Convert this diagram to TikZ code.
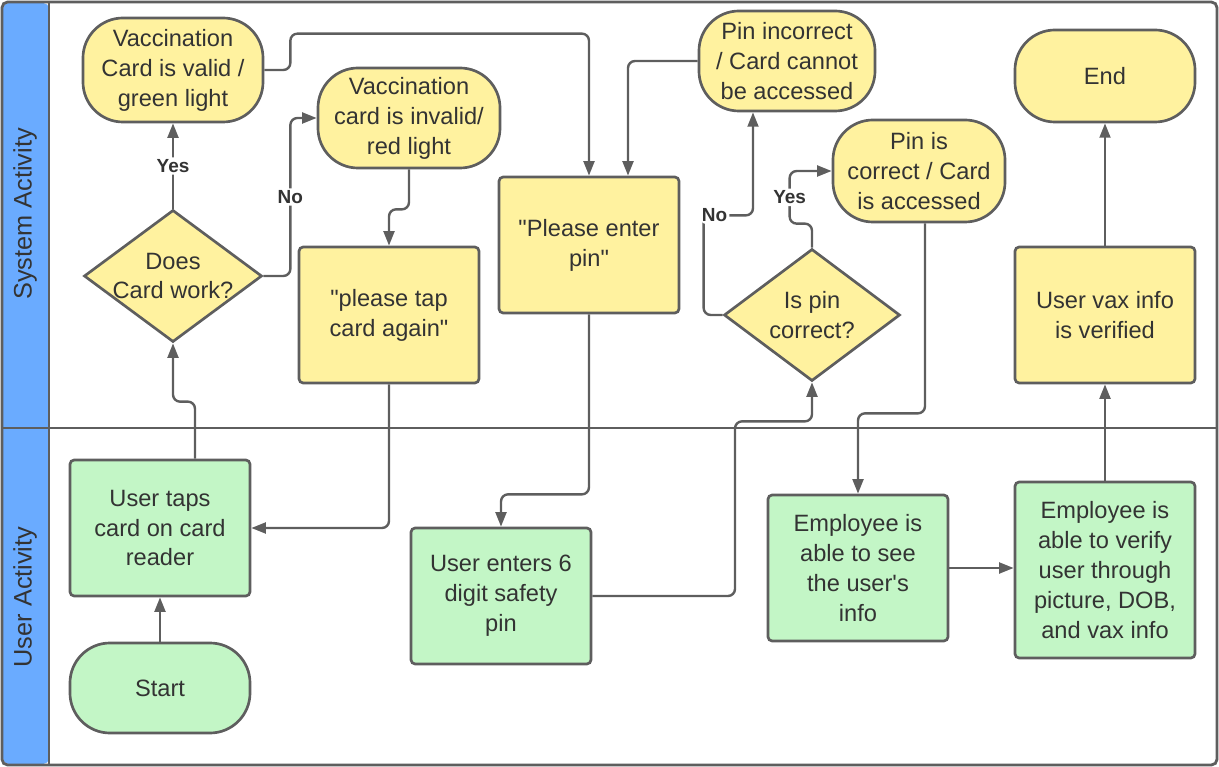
\documentclass[tikz,border=0pt]{standalone}
\usepackage{fontspec}
\setmainfont{Liberation Sans}
\usetikzlibrary{arrows.meta,shapes.geometric,calc}
\definecolor{laneblue}{HTML}{6AABFF}
\definecolor{sysyel}{HTML}{FFF29F}
\definecolor{usrgrn}{HTML}{C3F6C6}
\definecolor{edgegr}{HTML}{5E5E5E}
\definecolor{txtgr}{HTML}{333333}
\newcommand{\fbody}{\fontsize{16.8}{21.3}\selectfont}
\newcommand{\dq}{\textquotedbl}
\tikzset{
  procbox/.style={rectangle, rounded corners=3pt, draw=edgegr, line width=1.9pt, fill=#1,
                  align=center, font=\fbody, text=txtgr, minimum width=4.5cm, minimum height=3.4cm},
  termbox/.style={rectangle, rounded corners=1cm, draw=edgegr, line width=1.9pt, fill=#1,
                  align=center, font=\fbody, text=txtgr, minimum width=4.5cm, minimum height=2.55cm},
  decision/.style={diamond, draw=edgegr, line width=1.9pt, fill=sysyel, inner sep=0pt,
                   minimum width=4.45cm, minimum height=3.3cm},
  qtext/.style={align=center, font=\fbody, text=txtgr},
  arr/.style={-{Triangle[length=0.36cm,width=0.27cm]}, line width=1.7pt, draw=edgegr, rounded corners=5pt},
  yesno/.style={font=\bfseries\fontsize{13.5}{15}\selectfont, text=txtgr, fill=white, inner sep=1.5pt},
  lanelbl/.style={rotate=90, font=\fontsize{18}{21}\selectfont, text=txtgr},
}

\begin{document}
\begin{tikzpicture}[x=0.025cm, y=-0.025cm]
        \useasboundingbox (0,0) rectangle (1219,767);
        % swimlanes
        \fill[laneblue, rounded corners=4pt] (3,3) rectangle (49,764);
        \draw[edgegr, line width=2pt, rounded corners=4pt] (2,2) rectangle (1217,765);
        \draw[edgegr, line width=2pt] (49,2) -- (49,765);
        \draw[edgegr, line width=2pt] (2,428) -- (1217,428);
        \node[lanelbl] (sys) at (25,214) {System Activity};
        \node[lanelbl] (usr) at (25,597) {User Activity};
        % system activity
        \node[termbox=sysyel, minimum height=2.6cm] (valid) at (173,70)
          {Vaccination\\Card is valid /\\green light};
        \node[decision, label={[qtext]center:Does\\Card work?}] (q1) at (173,276) {};
        \node[termbox=sysyel, minimum width=4.55cm, minimum height=2.5cm] (invalid) at (409,118)
          {Vaccination\\card is invalid/\\red light};
        \node[procbox=sysyel] (tapagain) at (389,315) {\dq please tap\\card again\dq};
        \node[procbox=sysyel] (askpin) at (589,245) {\dq Please enter\\pin\dq};
        \node[termbox=sysyel, minimum width=4.4cm, minimum height=2.5cm] (fail) at (787,61)
          {Pin incorrect\\/ Card cannot\\be accessed};
        \node[termbox=sysyel, minimum width=4.3cm] (pass) at (919,171)
          {Pin is\\correct / Card\\is accessed};
        \node[decision, minimum width=4.4cm, label={[qtext]center:Is pin\\correct?}] (q2) at (812,315) {};
        \node[termbox=sysyel, minimum height=2.3cm] (end) at (1105,76) {End};
        \node[procbox=sysyel] (vaxok) at (1105,315) {User vax info\\is verified};
        % user activity
        \node[procbox=usrgrn] (tap) at (160,528) {User taps\\card on card\\reader};
        \node[termbox=usrgrn, minimum height=2.25cm] (start) at (160,688) {Start};
        \node[procbox=usrgrn] (enterpin) at (501,596) {User enters 6\\digit safety\\pin};
        \node[procbox=usrgrn, minimum height=3.65cm] (seeinfo) at (858,568)
          {Employee is\\able to see\\the user\textquotesingle s\\info};
        \node[procbox=usrgrn, minimum height=4.4cm] (verify) at (1105,570)
          {Employee is\\able to verify\\user through\\picture, DOB,\\and vax info};
        % connectors
        \draw[arr] (start) -- (tap);
        \draw[arr] ($(tap.north)+(35,0)$) -- ++(0,-57) -| (q1.south);
        \draw[arr] (q1.north) -- node[yesno]{Yes} (valid.south);
        \draw[arr] (q1.east) -- ++(27,0) |- node[yesno, pos=0.25]{No} (invalid.west);
        \draw[arr] (valid.east) -- ++(26,0) |- ($(askpin.north)+(0,-142)$) -- (askpin.north);
        \draw[arr] (invalid.south) -- ++(0,40) -| (tapagain.north);
        \draw[arr] (tapagain.south) |- (tap.east);
        \draw[arr] (askpin.south) -- ++(0,180) -| (enterpin.north);
        \draw[arr] (enterpin.east) -| ($(q2.south)+(-77,39)$) -| (q2.south);
        \draw[arr] (q2.west) -- ++(-19,0) |- node[yesno, pos=0.61]{No} ($(fail.south)+(-34,103)$)
          -- ($(fail.south)+(-34,0)$);
        \draw[arr] (q2.north) -- ++(0,-24) -| node[yesno, pos=0.75]{Yes} ($(pass.west)+(-42,0)$)
          -- (pass.west);
        \draw[arr] (fail.west) -| ($(askpin.north)+(39,0)$);
        \draw[arr] ($(pass.south)+(6,0)$) -- ++(0,190) -| (seeinfo.north);
        \draw[arr] (seeinfo.east) -- (seeinfo.east -| verify.west);
        \draw[arr] (verify.north) -- (vaxok.south);
        \draw[arr] (vaxok.north) -- (end.south);
      \end{tikzpicture}
\end{document}
